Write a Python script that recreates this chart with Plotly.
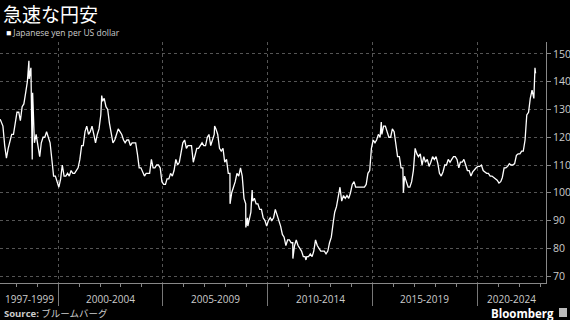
import pandas as pd
import plotly.graph_objects as go

# ---- data (JPY per USD, approximate mid-month levels) ----
start_date = "1997-03-28"
start_value = 126.5
monthly_start = "1997-04-15"
usdjpy = [
    # 1997 Apr-Dec
    124, 117, 112.5, 116, 119, 121, 121, 125, 129,
    # 1998
    129, 126, 131, 132, 136, 140, 141, 145, 136, 118, 121, 116,
    # 1999
    113, 118, 120, 120, 122, 120, 118, 112, 106, 106, 104, 102,
    # 2000
    105, 110, 106, 106, 107, 106, 108, 107, 107, 108, 109, 112,
    # 2001
    117, 117, 122, 124, 121, 122, 124, 121, 118, 121, 123, 128,
    # 2002
    133, 134, 131, 130, 125, 121, 118, 119, 121, 123, 122, 121,
    # 2003
    119, 118, 119, 119, 117, 118, 118, 118, 114, 109, 109, 107.5,
    # 2004
    106, 107, 107, 107, 112, 109, 109, 110, 110, 109, 104, 103,
    # 2005
    103, 105, 105, 107, 106, 108, 112, 110, 111, 114, 118, 119,
    # 2006
    116, 117, 117, 117, 111, 114, 116, 116, 117, 118, 117, 117,
    # 2007
    120, 121, 117, 119, 121, 123, 121, 116, 115, 116, 111, 112,
    # 2008
    107, 107, 100, 102, 104, 107, 106, 109, 106, 98, 96, 91,
    # 2009
    90, 93, 97, 98, 96, 96, 94, 94, 91, 90, 88, 90,
    # 2010
    91, 90, 91, 94, 92, 90, 88, 85, 84, 81, 83, 83,
    # 2011
    82, 82, 81, 83, 81, 80, 79, 77, 77, 77, 77, 78,
    # 2012
    77, 79, 83, 81, 80, 79, 79, 79, 78, 79, 82, 84,
    # 2013
    89, 93, 95, 98, 102, 97, 99, 98, 99, 98, 100, 103,
    # 2014
    104, 102, 102, 102, 102, 102, 102, 103, 107, 108, 116, 119,
    # 2015
    118, 119, 121, 120, 121, 124, 124, 122, 120, 120, 123, 122,
    # 2016
    118, 113, 113, 109, 109, 106, 104, 102, 102, 104, 108, 116,
    # 2017
    114, 113, 114, 110, 113, 111, 112, 109.5, 111, 113, 112, 113,
    # 2018
    110.5, 107, 106, 107.5, 110, 110, 112, 111, 112, 113, 113, 112,
    # 2019
    109, 111, 111, 112, 110, 108, 108, 106, 107.5, 108.5, 109, 109.5,
    # 2020
    109.5, 110, 108, 107.5, 107, 107, 106, 106, 105.5, 105, 104.5, 103.5,
    # 2021
    104, 105.5, 109, 109, 109.5, 110.5, 110, 110, 110.5, 113.5, 114, 114,
    # 2022 Jan-Sep
    115, 115, 119, 128, 129, 134, 137, 134, 143,
]
spike_dates = ["1998-08-11", "1998-10-08", "2002-01-31", "2007-06-22", "2008-03-17",
               "2008-12-17", "2009-01-21", "2009-04-06",
               "2011-03-17", "2011-10-31", "2015-06-05", "2016-06-24", "2022-10-05"]
spike_values = [147.5, 112.0, 135.0, 124.0, 96.0,
                87.5, 88.0, 101.0,
                76.3, 75.8, 125.5, 100.0, 145.0]

group_labels = ["1997-1999", "2000-2004", "2005-2009", "2010-2014", "2015-2019", "2020-2024"]
group_starts = ["1997-01-01", "2000-01-01", "2005-01-01", "2010-01-01", "2015-01-01", "2020-01-01"]
group_ends = ["2000-01-01", "2005-01-01", "2010-01-01", "2015-01-01", "2020-01-01", "2025-01-01"]
y_ticks = [70, 80, 90, 100, 110, 120, 130, 140, 150]

x_range = ["1997-03-25", "2023-04-15"]

# ---- build series ----
monthly_dates = pd.date_range(monthly_start, periods=len(usdjpy), freq="MS") + pd.Timedelta(days=14)
s = pd.concat([
    pd.Series([start_value], index=pd.to_datetime([start_date])),
    pd.Series(usdjpy, index=monthly_dates),
    pd.Series(spike_values, index=pd.to_datetime(spike_dates)),
]).sort_index()

fig = go.Figure()
fig.add_trace(go.Scatter(x=s.index, y=s.values, mode="lines",
                         line=dict(color="white", width=1.3),
                         showlegend=False, hoverinfo="skip"))

fig.update_layout(
    width=570, height=320,
    paper_bgcolor="black", plot_bgcolor="black",
    margin=dict(l=0, r=24, t=42, b=37),
    font=dict(family="Open Sans", color="#cccccc", size=10),
    xaxis=dict(
        type="date", range=x_range,
        tickvals=group_starts[1:], ticks="outside", ticklen=22, tickcolor="#777",
        tickwidth=1, showticklabels=False,
        showgrid=True, gridcolor="#555", griddash="dot", gridwidth=1,
        showline=True, linecolor="#888", linewidth=1,
        zeroline=False,
        minor=dict(tick0="1997-01-01", dtick="M12", ticks="outside", ticklen=3,
                   tickcolor="#888", showgrid=False),
    ),
    yaxis=dict(
        side="right", range=[67.5, 154.3],
        tickvals=y_ticks, ticks="outside", ticklen=4, tickcolor="#888",
        tickfont=dict(size=10.5, color="#cccccc"),
        showgrid=True, gridcolor="#555", griddash="dot", gridwidth=1,
        showline=True, linecolor="#888", linewidth=1, zeroline=False,
    ),
)

# convert pixel positions to paper coords (plot area x 0..546, y 42..283)
def px(xp, yp):
    return xp / 546, (283 - yp) / 241

# group labels centred in their visible spans
r0, r1 = pd.Timestamp(x_range[0]), pd.Timestamp(x_range[1])
for lab, a, b in zip(group_labels, group_starts, group_ends):
    a, b = max(pd.Timestamp(a), r0), min(pd.Timestamp(b), r1)
    mid = a + (b - a) / 2
    fig.add_annotation(x=mid, xref="x", y=px(0, 299)[1], yref="paper", text=lab,
                       showarrow=False, yanchor="middle",
                       font=dict(size=10, color="#cccccc"))

tx, ty = px(1, 14)
fig.add_annotation(x=tx, y=ty, xref="paper", yref="paper",
                   text="急速な円安", showarrow=False, xanchor="left", yanchor="middle",
                   font=dict(family="Noto Sans CJK JP", size=19, color="white"))

lx, ly = px(4, 33)
fig.add_annotation(x=lx, y=ly, xref="paper", yref="paper", xanchor="left", yanchor="middle",
                   text="<span style='color:white'>■</span> Japanese yen per US dollar",
                   showarrow=False, font=dict(size=8.5, color="#cccccc"))

sx, sy = px(2, 313)
fig.add_annotation(x=sx, y=sy, xref="paper", yref="paper", xanchor="left", yanchor="middle",
                   text="<b>Source:</b> <span style='font-family:Noto Sans CJK JP'>ブルームバーグ</span>",
                   showarrow=False, font=dict(size=9.5, color="#cccccc"))

bx, by = px(556, 313)
fig.add_annotation(x=bx, y=by, xref="paper", yref="paper", xanchor="right", yanchor="middle",
                   text="<b>Bloomberg</b>", showarrow=False,
                   font=dict(family="Open Sans", size=11.5, color="white"))

ix0, iy0 = px(559, 308)
ix1, iy1 = px(567, 317)
fig.add_shape(type="rect", xref="paper", yref="paper", x0=ix0, y0=iy1, x1=ix1, y1=iy0,
              fillcolor="#bbbbbb", line=dict(width=0))

fig.write_html("out.html")
